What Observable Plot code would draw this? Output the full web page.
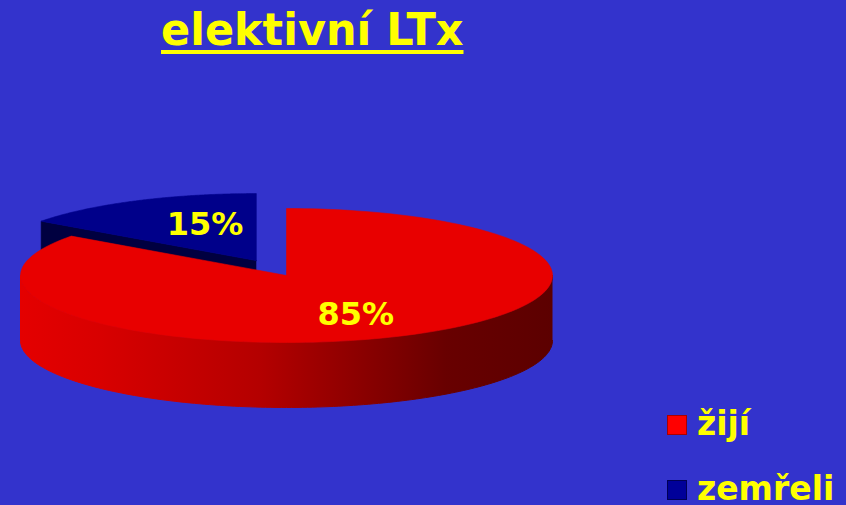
<!DOCTYPE html>
<html>
<head>
<meta charset="utf-8">
<script src="https://cdn.jsdelivr.net/npm/d3@7"></script>
<script src="https://cdn.jsdelivr.net/npm/@observablehq/plot@0.6"></script>
<style>
  html, body { margin: 0; padding: 0; background: #3333cc; width: 846px; height: 505px; overflow: hidden; }
  #wrap { position: relative; width: 846px; height: 505px; }
  #chart { position: absolute; left: 0; top: 0; }
  #title {
    position: absolute; left: 161px; top: 2px;
    font-family: "DejaVu Sans", sans-serif; font-weight: bold; font-size: 45px;
    color: #ffff00; line-height: 56px; white-space: nowrap;
    text-decoration: underline; text-decoration-thickness: 4px; text-underline-offset: 5px;
    transform: scaleX(0.955); transform-origin: left top;
  }
  .leg { position: absolute; left: 667px; font-family: "DejaVu Sans", sans-serif; font-weight: bold;
    font-size: 33px; color: #ffff00; white-space: nowrap; line-height: 33px; }
  .leg .sw { position: absolute; left: 0; width: 18px; height: 18px; border: 1px solid; }
  .leg .lt { position: absolute; left: 30px; }
</style>
</head>
<body>
<div id="wrap">
  <div id="chart"></div>
  <div id="title"></div>
  <div id="legend"></div>
</div>
<script>
// ---- data ----
const title = "elektivní LTx";
const categories = ["žijí", "zemřeli"];
const values = [85, 15];
const topColors = ["#e80000", "#00008a"];
const sideColors = ["gradient", "#000040"];
const legendColors = ["#ff0000", "#000099"];
const legendBorders = ["#aa0000", "#000055"];
const explodedCategory = "zemřeli";

// ---- layout constants ----
const EXPLODE = 0.25;   // radial offset of exploded slice (unit radius)
const DEPTH = 0.97;     // thickness of the pie (y units)
const LABEL_RX = 0.5, LABEL_RY = 0.63;
const N = 160;
const GRAD_PLACEHOLDER = "#fe0001";

const arcs = d3.pie().sort(null).value(d => d)(values);

const slices = arcs.map((a, i) => {
  const id = categories[i];
  const ex = id === explodedCategory ? EXPLODE : 0;
  const mid = (a.startAngle + a.endAngle) / 2;
  const ox = ex * Math.sin(mid), oy = ex * Math.cos(mid);
  const s0 = a.startAngle, s1 = a.endAngle;
  const top = [{id, x: ox, y: oy}];
  for (let k = 0; k <= N; k++) {
    const t = s0 + (s1 - s0) * k / N;
    top.push({id, x: ox + Math.sin(t), y: oy + Math.cos(t)});
  }
  top.push({id, x: ox, y: oy});
  const sides = [];
  const lo = Math.max(s0, Math.PI / 2), hi = Math.min(s1, 3 * Math.PI / 2);
  if (lo < hi) {
    const sid = id + "-wall";
    for (let k = 0; k <= N; k++) {
      const t = lo + (hi - lo) * k / N;
      sides.push({id: sid, x: ox + Math.sin(t), y: oy + Math.cos(t)});
    }
    for (let k = N; k >= 0; k--) {
      const t = lo + (hi - lo) * k / N;
      sides.push({id: sid, x: ox + Math.sin(t), y: oy + Math.cos(t) - DEPTH});
    }
  }
  const faces = [];
  const addFace = (t, fid) => {
    faces.push({id: fid, x: ox, y: oy});
    faces.push({id: fid, x: ox + Math.sin(t), y: oy + Math.cos(t)});
    faces.push({id: fid, x: ox + Math.sin(t), y: oy + Math.cos(t) - DEPTH});
    faces.push({id: fid, x: ox, y: oy - DEPTH});
  };
  if (Math.sin(s0) < -1e-9) addFace(s0, id + "-f0");
  if (Math.sin(s1) > 1e-9) addFace(s1, id + "-f1");
  const label = {
    x: ox + LABEL_RX * Math.sin(mid),
    y: oy + LABEL_RY * Math.cos(mid),
    text: values[i] + "%"
  };
  return {id, i, mid, top, sides, faces, label};
});

const order = slices.slice().sort((a, b) => Math.cos(b.mid) - Math.cos(a.mid));

const marks = [];
for (const s of order) {
  const sc = sideColors[s.i] === "gradient" ? GRAD_PLACEHOLDER : sideColors[s.i];
  const tc = topColors[s.i];
  if (s.faces.length) marks.push(Plot.line(s.faces, {x: "x", y: "y", z: "id", fill: sc, stroke: sc, strokeWidth: 0.5, curve: "linear"}));
  if (s.sides.length) marks.push(Plot.line(s.sides, {x: "x", y: "y", z: "id", fill: sc, stroke: sc, strokeWidth: 1, curve: "linear"}));
  marks.push(Plot.line(s.top, {x: "x", y: "y", z: "id", fill: tc, stroke: tc, strokeWidth: 0.6, curve: "linear"}));
}
marks.push(Plot.text(slices.map(s => s.label), {
  x: "x", y: "y", text: "text", fill: "#ffff00", dx: 9, dy: 2,
  fontSize: 32, fontWeight: "bold", fontFamily: "DejaVu Sans"
}));

const chart = Plot.plot({
  width: 846, height: 505, margin: 0,
  style: {background: "transparent", overflow: "visible"},
  x: {domain: [-1, 1], range: [20, 552], axis: null},
  y: {domain: [-1, 1], range: [342, 208], axis: null},
  marks
});

const ns = "http://www.w3.org/2000/svg";
const defs = document.createElementNS(ns, "defs");
const grad = document.createElementNS(ns, "linearGradient");
grad.setAttribute("id", "redWall");
grad.setAttribute("x1", "0"); grad.setAttribute("x2", "1");
grad.setAttribute("y1", "0"); grad.setAttribute("y2", "0");
[[0, "#e40000"], [0.15, "#d80000"], [0.45, "#b40000"], [0.8, "#680000"], [1, "#5c0000"]].forEach(([o, c]) => {
  const st = document.createElementNS(ns, "stop");
  st.setAttribute("offset", o); st.setAttribute("stop-color", c);
  grad.appendChild(st);
});
defs.appendChild(grad);
chart.insertBefore(defs, chart.firstChild);
chart.querySelectorAll(`[fill="${GRAD_PLACEHOLDER}"]`).forEach(el => el.setAttribute("fill", "url(#redWall)"));
chart.querySelectorAll(`[stroke="${GRAD_PLACEHOLDER}"]`).forEach(el => el.setAttribute("stroke", "url(#redWall)"));

document.getElementById("chart").appendChild(chart);
document.getElementById("title").textContent = title;

const legend = document.getElementById("legend");
const legendTops = [415, 480];
categories.forEach((c, i) => {
  const d = document.createElement("div");
  d.className = "leg";
  d.style.top = (legendTops[i] - 8) + "px";
  d.innerHTML = `<span class="sw" style="top:8px;background:${legendColors[i]};border-color:${legendBorders[i]}"></span><span class="lt">${c}</span>`;
  legend.appendChild(d);
});
</script>
</body>
</html>
